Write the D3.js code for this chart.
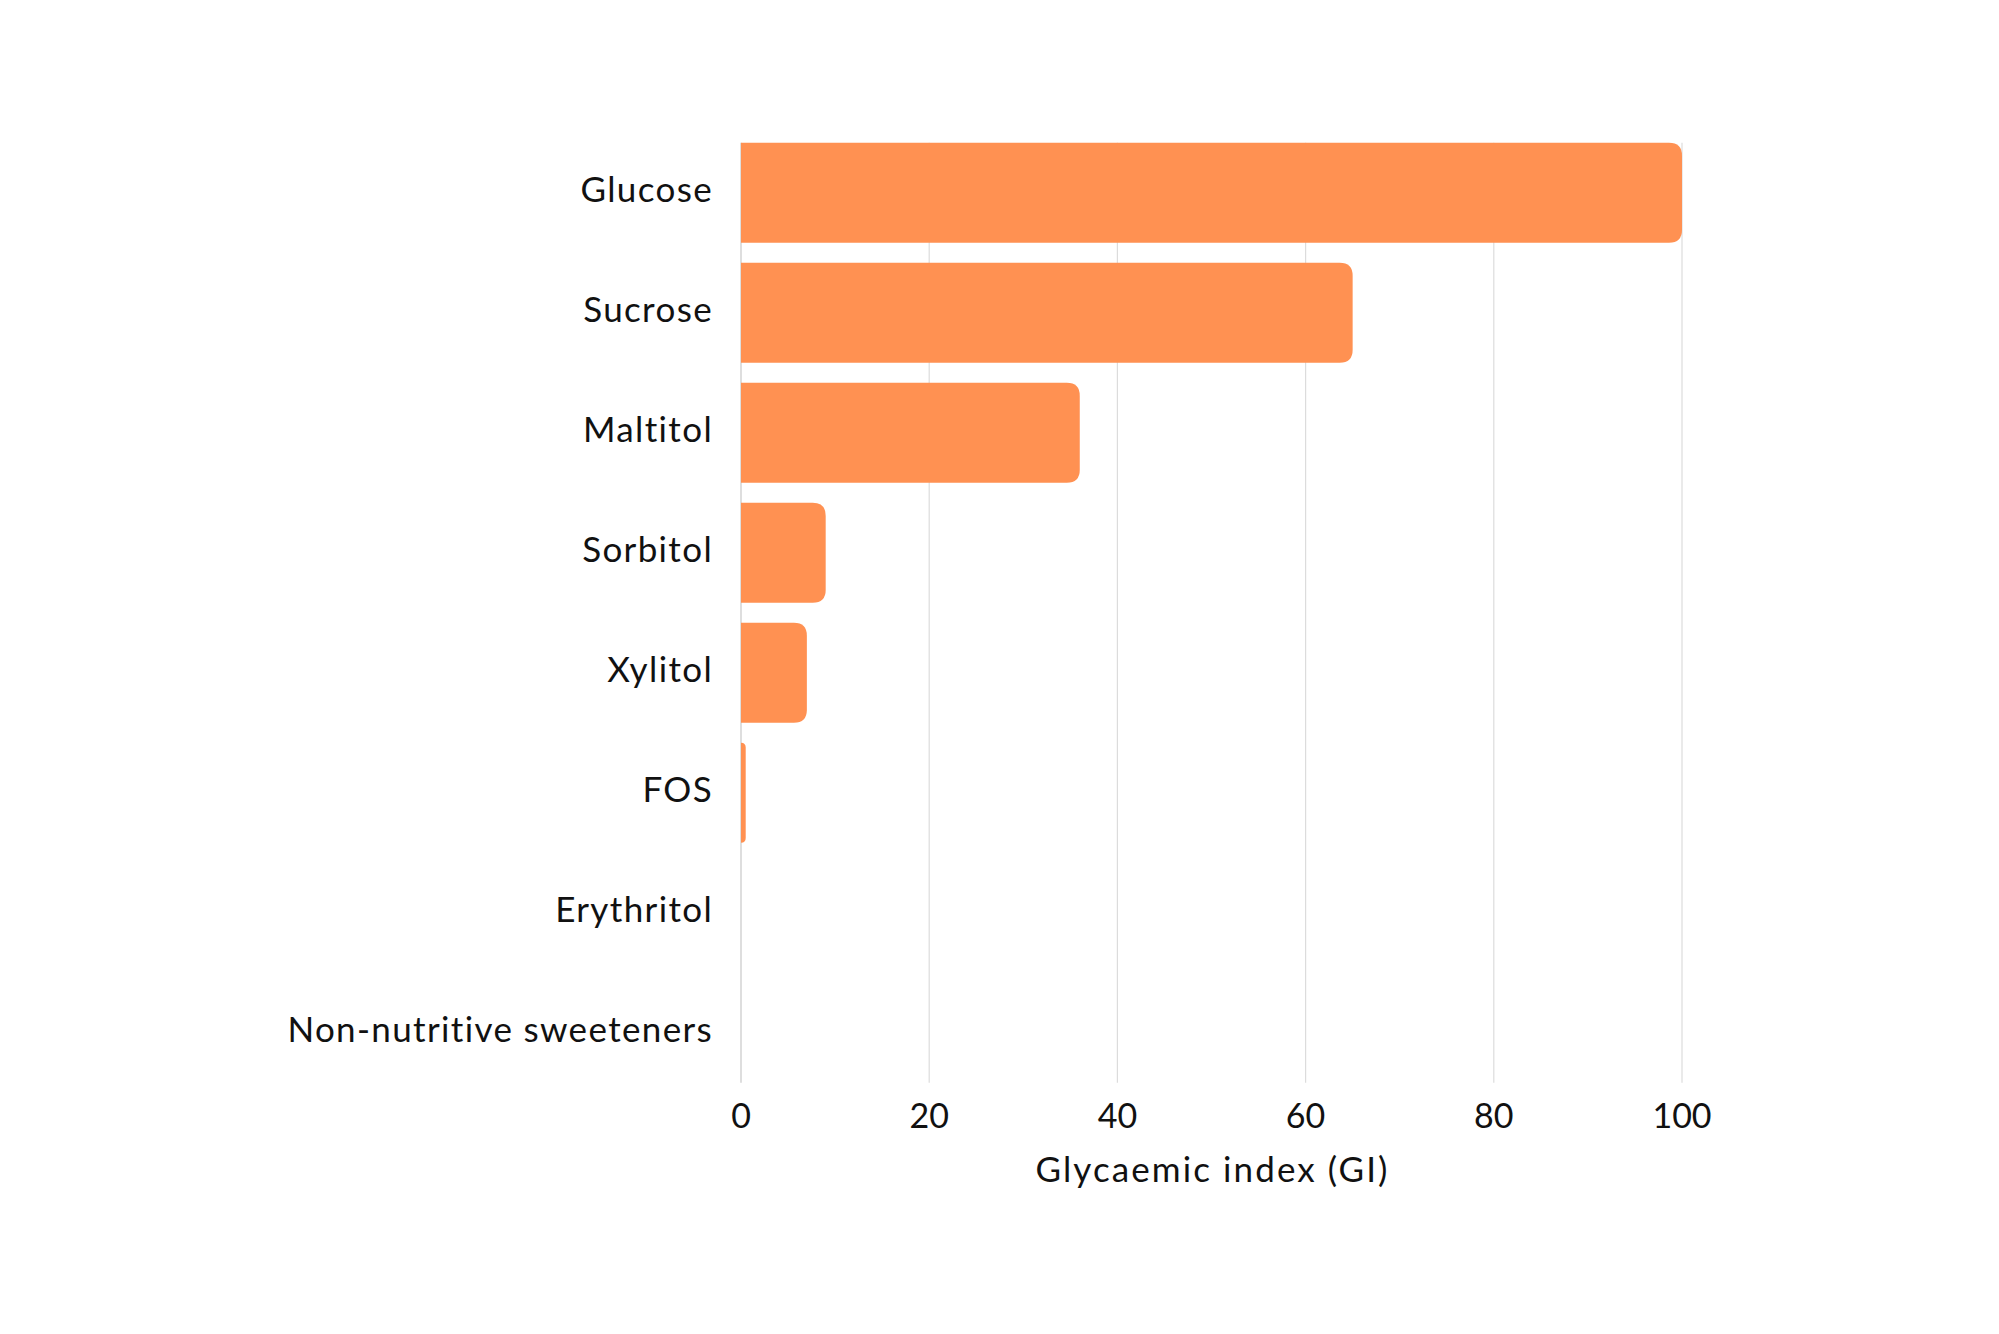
<!DOCTYPE html>
<html>
<head>
<meta charset="utf-8">
<script src="https://d3js.org/d3.v7.min.js"></script>
<style>
  body { margin: 0; background: #fff; }
  svg text { font-family: Lato, "Noto Sans", sans-serif; fill: #111; }
</style>
</head>
<body>
<svg id="chart" width="1999" height="1334"></svg>
<script>
const sweeteners = ["Glucose", "Sucrose", "Maltitol", "Sorbitol", "Xylitol", "FOS", "Erythritol", "Non-nutritive sweeteners"];
const giValues = [100, 65, 36, 9, 7, 0.5, 0, 0];
const xTicks = [0, 20, 40, 60, 80, 100];

const data = sweeteners.map((name, i) => ({name: name, gi: giValues[i]}));

const svg = d3.select("#chart");
const plotLeft = 741, plotRight = 1682, plotTop = 142.7, plotBottom = 1082.7;

const x = d3.scaleLinear().domain([0, 100]).range([plotLeft, plotRight]);
const y = d3.scaleBand().domain(sweeteners).range([plotTop, plotBottom])
            .paddingInner(1/6).paddingOuter(0);

// gridlines
svg.append("g").selectAll("line").data(xTicks)
   .join("line")
   .attr("x1", d => x(d)).attr("x2", d => x(d))
   .attr("y1", plotTop).attr("y2", plotBottom)
   .attr("stroke", d => d === 0 ? "#c8c8c8" : "#dcdcdc")
   .attr("stroke-width", 1.2);

// bars with rounded right corners
function barPath(d) {
  const x0 = x(0), x1 = x(d.gi), y0 = y(d.name), h = y.bandwidth();
  const w = x1 - x0;
  if (w <= 0) return "";
  const r = Math.min(13, w, h / 2);
  return `M${x0},${y0}H${x1 - r}Q${x1},${y0} ${x1},${y0 + r}` +
         `V${y0 + h - r}Q${x1},${y0 + h} ${x1 - r},${y0 + h}H${x0}Z`;
}
svg.append("g").selectAll("path").data(data)
   .join("path")
   .attr("d", barPath)
   .attr("fill", "#FF9152");

// category labels
svg.append("g").selectAll("text").data(data)
   .join("text")
   .attr("x", plotLeft - 28)
   .attr("y", d => y(d.name) + y.bandwidth() / 2)
   .attr("dy", "0.27em")
   .attr("text-anchor", "end")
   .attr("font-size", 35)
   .attr("letter-spacing", 1.35)
   .text(d => d.name);

// x tick labels
svg.append("g").selectAll("text").data(xTicks)
   .join("text")
   .attr("x", d => x(d))
   .attr("y", 1128)
   .attr("text-anchor", "middle")
   .attr("font-size", 34)
   .text(d => d);

// axis title
svg.append("text")
   .attr("x", (plotLeft + plotRight) / 2 + 1)
   .attr("y", 1182)
   .attr("text-anchor", "middle")
   .attr("font-size", 35)
   .attr("letter-spacing", 2.1)
   .text("Glycaemic index (GI)");
</script>
</body>
</html>
